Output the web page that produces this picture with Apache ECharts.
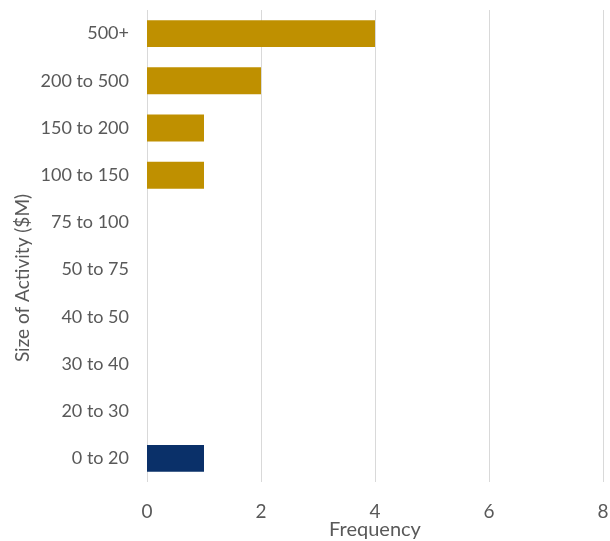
<!DOCTYPE html>
<html><head><meta charset="utf-8">
<script src="https://cdn.jsdelivr.net/npm/echarts@6/dist/echarts.min.js"></script>
<style>html,body{margin:0;padding:0;background:#fff}#c{width:610px;height:541px}</style>
</head><body><div id="c"></div>
<script>
const categories = ['0 to 20','20 to 30','30 to 40','40 to 50','50 to 75','75 to 100','100 to 150','150 to 200','200 to 500','500+'];
const frequency = [1,0,0,0,0,0,1,1,2,4];
const highlightCategory = '0 to 20';
const xTicks = [0,2,4,6,8];

const chart = echarts.init(document.getElementById('c'));
const font = 'Lato, "DejaVu Sans", sans-serif';
chart.setOption({
  animation:false,
  grid:{left:147,right:7,top:10,bottom:59,containLabel:false,outerBoundsMode:'none'},
  xAxis:{type:'value',min:xTicks[0],max:xTicks[xTicks.length-1],interval:2,
    name:'Frequency',nameLocation:'middle',nameGap:48,nameMoveOverlap:false,
    nameTextStyle:{color:'#595959',fontSize:20,fontFamily:font,verticalAlign:'middle'},
    axisLabel:{color:'#595959',fontSize:19,fontFamily:font,margin:20},
    axisLine:{show:false},axisTick:{show:false},
    splitLine:{lineStyle:{color:'#d9d9d9',width:1}}},
  yAxis:{type:'category',data:categories,
    name:'Size of Activity ($M)',nameLocation:'middle',nameGap:115,nameRotate:90,nameMoveOverlap:false,
    nameTextStyle:{color:'#595959',fontSize:19,fontFamily:font,padding:[0,64,0,0]},
    axisLabel:{color:'#595959',fontSize:18,fontFamily:font,margin:18},
    axisLine:{show:false},axisTick:{show:false}},
  series:[{type:'bar',data:frequency,barCategoryGap:'43%',
    itemStyle:{color:p=>p.name===highlightCategory?'#0a3069':'#bf9000'}}]
});
</script></body></html>
